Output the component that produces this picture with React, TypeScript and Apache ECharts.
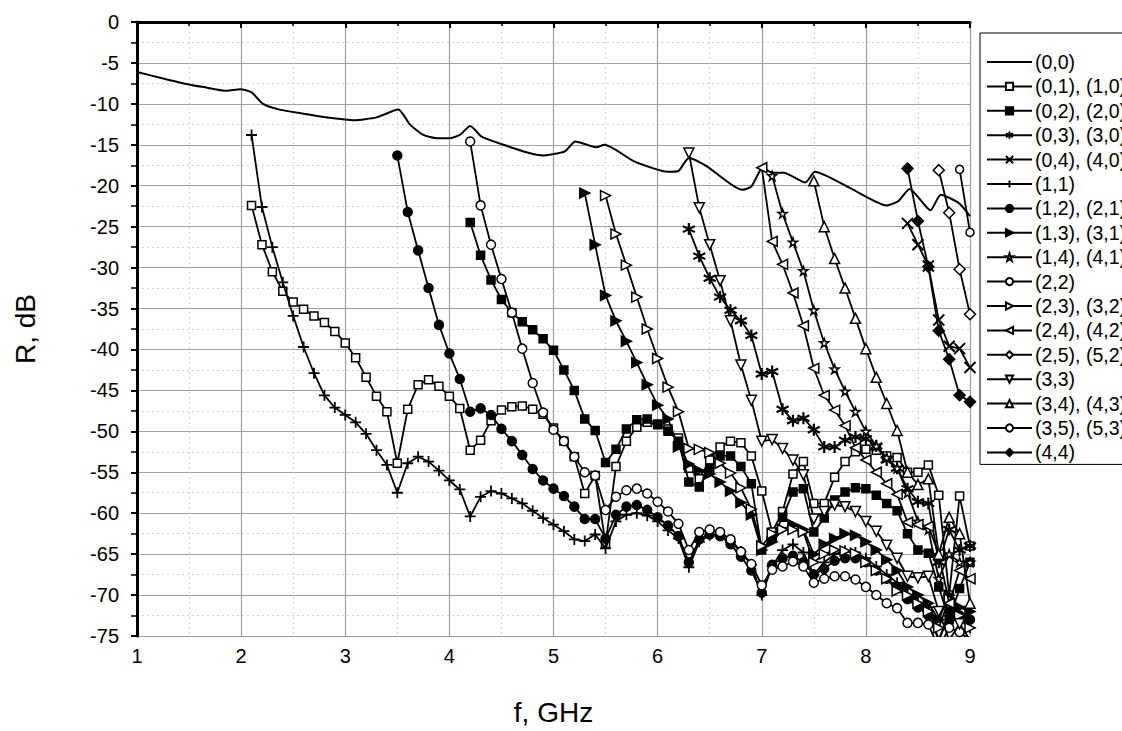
import React, { useEffect, useRef } from "react";
import * as echarts from "echarts";

// (0,0) – irregular sampling
const f00 = [1.0, 1.25, 1.45, 1.64, 1.86, 1.99, 2.1, 2.21, 2.37, 2.6, 2.85, 3.08, 3.3, 3.51, 3.62, 3.75, 3.88, 4.0, 4.1, 4.2, 4.31, 4.52, 4.74, 4.9, 4.97, 5.11, 5.21, 5.41, 5.49, 5.77, 5.99, 6.1, 6.2, 6.3, 6.47, 6.81, 6.9, 7.01, 7.1, 7.21, 7.42, 7.51, 7.85, 8.2, 8.31, 8.42, 8.62, 8.72, 8.89, 9.0];
const r00 = [-6.1, -6.9, -7.5, -7.95, -8.4, -8.2, -8.6, -10.0, -10.7, -11.2, -11.7, -12.0, -11.65, -10.7, -12.5, -13.8, -14.2, -14.2, -13.8, -12.7, -14.0, -15.0, -15.9, -16.3, -16.2, -15.8, -14.6, -15.3, -15.0, -17.0, -18.0, -18.3, -18.2, -16.6, -17.6, -20.5, -20.1, -17.8, -18.4, -18.4, -19.6, -18.3, -20.3, -22.4, -21.9, -20.4, -23.0, -21.1, -22.1, -23.7];

// other modes: values at 0.1 GHz steps from a start frequency
const start01 = 2.1;
const r01 = [
  -22.4, -27.2, -30.5, -32.9, -34.2, -35.1, -35.9, -36.7, -37.8, -39.2,
  -41.0, -43.4, -45.7, -47.6, -53.9, -47.3, -44.3, -43.7, -44.5, -45.7,
  -47.2, -52.3, -51.1, -48.7, -47.4, -47.0, -46.9, -47.3, -47.9, -49.6,
  -51.2, -53.1, -57.6, -55.4, -63.7, -54.3, -51.2, -49.5, -48.9, -49.2,
  -49.7, -50.8, -54.5, -55.8, -53.5, -51.9, -51.2, -51.4, -53.0, -57.3,
  -62.3, -59.8, -55.2, -53.7, -58.8, -58.8, -55.6, -53.7, -52.5, -52.2,
  -52.3, -53.0, -53.2, -55.0, -55.0, -54.1, -57.8, -70.0, -57.9, -64.0,
];
const start02 = 4.2;
const r02 = [
  -24.5, -28.5, -31.5, -33.9, -35.5, -36.6, -37.6, -38.7, -40.1, -42.5,
  -45.0, -48.5, -49.9, -53.8, -52.2, -49.7, -48.6, -48.5, -49.1, -50.0,
  -51.2, -56.2, -56.8, -54.5, -53.0, -53.0, -54.3, -56.4, -64.5, -63.0,
  -60.5, -57.4, -57.0, -62.3, -60.6, -58.4, -57.4, -56.9, -57.0, -57.8,
  -58.8, -59.7, -62.5, -64.5, -64.9, -69.0, -73.0, -69.2, -66.0,
];
const start03 = 6.3;
const r03 = [
  -25.3, -28.6, -31.3, -33.6, -35.2, -36.5, -38.3, -43.0, -42.7, -47.3,
  -48.7, -48.4, -49.8, -51.9, -51.9, -51.1, -50.7, -50.9, -51.8, -53.5,
  -54.5, -57.0, -58.6, -58.8, -66.0, -62.0, -64.5, -64.0,
];
const start04 = 8.4;
const r04 = [-24.6, -27.2, -29.8, -36.4, -39.6, -39.9, -42.2];
const start11 = 2.1;
const r11 = [
  -13.8, -22.6, -27.5, -31.8, -35.9, -39.7, -42.9, -45.6, -47.1, -48.0,
  -48.9, -50.3, -52.3, -54.1, -57.5, -53.9, -53.1, -53.7, -54.8, -56.0,
  -57.1, -60.4, -58.0, -57.3, -57.6, -58.2, -58.8, -59.7, -60.6, -61.4,
  -62.2, -63.2, -63.4, -62.6, -64.3, -61.0, -60.2, -60.0, -60.3, -61.0,
  -62.1, -63.1, -66.6, -63.5, -62.7, -62.7, -63.5, -64.7, -66.3, -70.0,
  -66.5, -64.5, -63.8, -64.8, -67.5, -66.0, -65.0, -64.6, -64.8, -65.5,
  -66.5, -67.5, -68.5, -70.0, -71.0, -71.5, -75.5, -72.5, -73.0, -74.0,
];
const start12 = 3.5;
const r12 = [
  -16.3, -23.2, -27.9, -32.5, -37.0, -40.5, -43.6, -47.6, -47.2, -48.0,
  -49.7, -51.2, -52.9, -54.6, -56.0, -57.0, -57.9, -59.2, -60.7, -60.7,
  -63.1, -60.2, -59.2, -59.0, -59.6, -60.5, -61.5, -62.8, -66.0, -63.2,
  -62.6, -62.8, -63.8, -65.3, -67.0, -69.7, -66.3, -65.5, -65.2, -66.0,
  -67.5, -66.8, -65.8, -65.5, -65.5, -66.0, -67.0, -68.0, -69.0, -70.5,
  -71.5, -72.5, -75.5, -72.0, -72.5, -73.0,
];
const start13 = 5.3;
const r13 = [
  -20.9, -27.2, -33.4, -36.5, -39.0, -41.6, -44.3, -46.8, -48.5, -51.9,
  -54.0, -54.8, -55.2, -56.2, -57.3, -58.7, -60.2, -64.5, -63.5, -62.0,
  -61.4, -62.0, -65.0, -63.8, -63.1, -62.5, -62.7, -63.5, -64.5, -65.7,
  -67.0, -69.0, -70.0, -71.0, -73.0, -70.0, -71.5, -72.0,
];
const start14 = 7.1;
const r14 = [
  -18.8, -23.4, -26.9, -30.4, -35.2, -39.2, -42.4, -45.1, -47.6, -50.0,
  -51.8, -53.2, -54.5, -57.5, -61.0, -62.0, -68.0, -65.0, -66.0, -66.0,
];
const start22 = 4.2;
const r22 = [
  -14.6, -22.4, -27.2, -31.4, -35.5, -39.9, -44.1, -47.7, -49.8, -51.2,
  -53.1, -55.0, -55.4, -59.6, -58.0, -57.2, -57.0, -57.6, -58.6, -59.8,
  -61.3, -64.5, -62.3, -62.0, -62.3, -63.2, -64.7, -66.2, -68.8, -66.9,
  -66.5, -65.9, -66.5, -68.5, -68.0, -67.7, -67.7, -68.1, -69.0, -70.0,
  -71.0, -71.6, -73.4, -73.4, -73.6, -76.5, -74.0, -74.5, -75.5,
];
const start23 = 5.5;
const r23 = [
  -21.2, -25.9, -29.7, -33.6, -37.5, -41.1, -44.6, -47.6, -52.1, -52.2,
  -52.6, -53.9, -55.1, -56.9, -59.5, -64.0, -62.5, -62.0, -62.0, -62.3,
  -66.0, -65.0, -64.5, -64.6, -64.9, -66.0, -67.0, -68.0, -69.5, -70.0,
  -71.0, -72.0, -74.0, -70.5, -72.5, -74.0,
];
const start24 = 7.0;
const r24 = [
  -17.8, -26.8, -29.6, -33.1, -37.1, -42.3, -45.6, -47.4, -49.3, -52.0,
  -53.5, -55.0, -56.4, -57.7, -61.1, -61.4, -61.6, -65.0, -71.0, -67.0,
  -68.0,
];
const start25 = 8.7;
const r25 = [-18.1, -23.3, -30.2, -35.7];
const start33 = 6.3;
const r33 = [
  -16.0, -22.7, -27.2, -31.6, -36.5, -41.9, -46.2, -51.2, -51.0, -52.1,
  -53.5, -55.3, -60.7, -59.8, -59.0, -59.2, -59.8, -61.0, -62.2, -63.9,
  -65.5, -67.7, -67.9, -67.7, -72.0, -75.5, -73.5, -75.5,
];
const start34 = 7.5;
const r34 = [
  -19.4, -25.0, -28.9, -32.5, -36.2, -39.9, -43.4, -46.6, -49.9, -55.0,
  -56.5, -55.8, -65.0, -60.5, -62.5, -71.0,
];
const start35 = 8.9;
const r35 = [-18.0, -25.7];
const start44 = 8.4;
const r44 = [-17.9, -24.3, -29.9, -37.7, -41.2, -45.6, -46.4];

const xTicks = [1, 2, 3, 4, 5, 6, 7, 8, 9];
const yTicks = [0, -5, -10, -15, -20, -25, -30, -35, -40, -45, -50, -55, -60, -65, -70, -75];

const FONT = "'Liberation Sans', Arial, sans-serif";

const SYM = {
  asterisk: "path://M5,0L5,10M0.67,2.5L9.33,7.5M9.33,2.5L0.67,7.5",
  cross: "path://M0,0L10,10M10,0L0,10",
  plus: "path://M5,0L5,10M0,5L10,5",
  star: "path://M5,0L6.2,3.6L10,3.6L6.9,5.9L8.1,9.5L5,7.3L1.9,9.5L3.1,5.9L0,3.6L3.8,3.6Z",
  triRight: "path://M0,0L10,5L0,10Z",
  triLeft: "path://M10,0L0,5L10,10Z",
  triDown: "path://M0,0L10,0L5,10Z",
  triUp: "path://M5,0L10,10L0,10Z",
};

const toPairs = (start: number, vals: number[]) =>
  vals.map((v, i) => [Math.round((start + 0.1 * i) * 100) / 100, v]);

type Def = { name: string; start: number; vals: number[]; symbol: string; size: number; fill: string; bw?: number };

const defs: Def[] = [
  { name: "(0,1), (1,0)", start: start01, vals: r01, symbol: "rect", size: 8, fill: "#fff" },
  { name: "(0,2), (2,0)", start: start02, vals: r02, symbol: "rect", size: 8, fill: "#000" },
  { name: "(0,3), (3,0)", start: start03, vals: r03, symbol: SYM.asterisk, size: 12, fill: "#000", bw: 2.2 },
  { name: "(0,4), (4,0)", start: start04, vals: r04, symbol: SYM.cross, size: 11, fill: "#000", bw: 2 },
  { name: "(1,1)", start: start11, vals: r11, symbol: SYM.plus, size: 11, fill: "#000", bw: 1.8 },
  { name: "(1,2), (2,1)", start: start12, vals: r12, symbol: "circle", size: 9, fill: "#000" },
  { name: "(1,3), (3,1)", start: start13, vals: r13, symbol: SYM.triRight, size: 10, fill: "#000" },
  { name: "(1,4), (4,1)", start: start14, vals: r14, symbol: SYM.star, size: 9, fill: "#fff" },
  { name: "(2,2)", start: start22, vals: r22, symbol: "circle", size: 9, fill: "#fff" },
  { name: "(2,3), (3,2)", start: start23, vals: r23, symbol: SYM.triRight, size: 10, fill: "#fff" },
  { name: "(2,4), (4,2)", start: start24, vals: r24, symbol: SYM.triLeft, size: 10, fill: "#fff" },
  { name: "(2,5), (5,2)", start: start25, vals: r25, symbol: "diamond", size: 11, fill: "#fff" },
  { name: "(3,3)", start: start33, vals: r33, symbol: SYM.triDown, size: 10, fill: "#fff" },
  { name: "(3,4), (4,3)", start: start34, vals: r34, symbol: SYM.triUp, size: 10, fill: "#fff" },
  { name: "(3,5), (5,3)", start: start35, vals: r35, symbol: "circle", size: 8, fill: "#fff" },
  { name: "(4,4)", start: start44, vals: r44, symbol: "diamond", size: 11, fill: "#000" },
];

export default function App() {
  const ref = useRef<HTMLDivElement>(null);
  useEffect(() => {
    document.body.style.margin = "0";
    if (!ref.current) return;
    const chart = echarts.init(ref.current, null, { renderer: "svg" });

    const series: any[] = [
      {
        name: "(0,0)",
        type: "line",
        data: f00.map((f, i) => [f, r00[i]]),
        symbol: "circle",
        showSymbol: false,
        smooth: 0.2,
        lineStyle: { color: "#000", width: 2 },
        itemStyle: { color: "rgba(0,0,0,0)", borderColor: "rgba(0,0,0,0)", borderWidth: 0 },
        silent: true,
        clip: true,
        z: 3,
      },
      ...defs.map((d, k) => ({
        name: d.name,
        type: "line",
        data: toPairs(d.start, d.vals),
        symbol: d.symbol,
        symbolSize: d.size,
        showAllSymbol: true,
        lineStyle: { color: "#000", width: 1.8 },
        itemStyle: { color: d.fill, borderColor: "#000", borderWidth: d.bw ?? 1.5 },
        silent: true,
        clip: true,
        z: 3 + k,
      })),
    ];

    chart.setOption({
      animation: false,
      backgroundColor: "#fff",
      grid: { left: 137, right: 152, top: 22, bottom: 93, containLabel: false },
      legend: {
        orient: "vertical",
        left: 980,
        top: 33,
        padding: [19, 6, 2, 6],
        itemWidth: 45,
        itemHeight: 9,
        itemGap: 4.4,
        borderColor: "#000",
        borderWidth: 1,
        selectedMode: false,
        data: ["(0,0)", ...defs.map((d) => d.name)],
        textStyle: { fontSize: 19.5, color: "#000", fontFamily: FONT, padding: [0, 0, 0, -2] },
      },
      xAxis: {
        type: "value",
        min: xTicks[0],
        max: xTicks[xTicks.length - 1],
        interval: 1,
        name: "f, GHz",
        nameLocation: "middle",
        nameGap: 62,
        nameTextStyle: { fontSize: 28, color: "#000", fontFamily: FONT },
        axisLine: { lineStyle: { color: "#000", width: 3 } },
        axisTick: { inside: false, length: 6, lineStyle: { color: "#000", width: 2 } },
        minorTick: { show: true, splitNumber: 2, length: 4, lineStyle: { color: "#000", width: 1.5 } },
        axisLabel: { fontSize: 20, color: "#000", fontFamily: FONT, margin: 10 },
        splitLine: { show: true, lineStyle: { color: "#a0a0a0", width: 1.2 } },
        minorSplitLine: { show: true, lineStyle: { color: "#d4d4d4", width: 1, type: [2, 3] } },
      },
      yAxis: {
        type: "value",
        min: yTicks[yTicks.length - 1],
        max: yTicks[0],
        interval: 5,
        name: "R, dB",
        nameLocation: "middle",
        nameGap: 98,
        nameRotate: 90,
        nameTextStyle: { fontSize: 28, color: "#000", fontFamily: FONT },
        axisLine: { show: true, lineStyle: { color: "#000", width: 3 } },
        axisTick: { show: true, inside: false, length: 6, lineStyle: { color: "#000", width: 2 } },
        minorTick: { show: true, splitNumber: 2, length: 6, lineStyle: { color: "#000", width: 1.5 } },
        axisLabel: { fontSize: 20, color: "#000", fontFamily: FONT, margin: 18 },
        splitLine: { show: true, lineStyle: { color: "#a0a0a0", width: 1.2 } },
        minorSplitLine: { show: true, lineStyle: { color: "#d4d4d4", width: 1, type: [2, 3] } },
      },
      series,
    });
    return () => chart.dispose();
  }, []);
  return <div ref={ref} style={{ width: 1122, height: 731 }} />;
}
